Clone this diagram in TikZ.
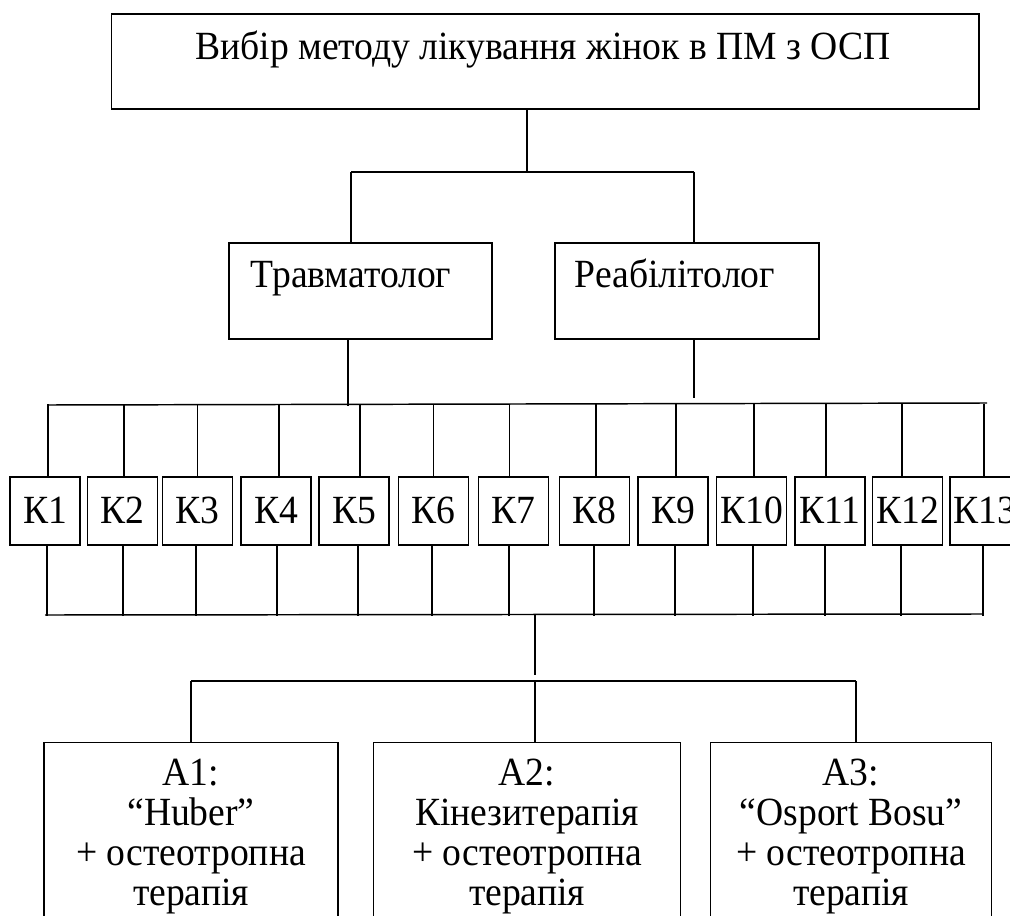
\documentclass[tikz,border=0pt]{standalone}
\usepackage{fontspec}
\setmainfont{Liberation Serif}[FakeStretch=0.94]
\usetikzlibrary{calc}
\begin{document}
\begin{tikzpicture}[x=0.75pt,y=-0.75pt,
  pxbox/.style 2 args={draw,line width=1pt,rectangle,inner sep=0pt,
    minimum width=#1*0.75pt,minimum height=#2*0.75pt,
    font=\fontsize{30}{30}\selectfont},
  kbox/.style={pxbox={70}{68},text height=18pt,text depth=0pt},
  lbl/.style={font=\fontsize{30}{30}\selectfont,inner sep=0pt,anchor=base},
  mlbl/.style={font=\fontsize{30}{30}\selectfont,inner sep=0pt,anchor=north,align=center},
  conn/.style={line width=0.8pt},
  bus/.style={line width=1.1pt}]
\useasboundingbox (0,0) rectangle (1010,916);
\clip (0,0) rectangle (1010,916);

% top box
\node[pxbox={867.5}{95}] (top) at (545.25,61.5) {};
\node[lbl] (toptext) at (543,60) {Вибір методу лікування жінок в ПМ з ОСП};

% second level
\node[pxbox={263}{96}] (trav) at (360.5,291) {};
\node[lbl] (travt) at (351,288) {Травматолог};
\node[pxbox={264}{96}] (reab) at (687,291) {};
\node[lbl] (reabt) at (675,288) {Реабілітолог};

\coordinate (j1) at (527,172);
\coordinate (jL) at (351,172);
\coordinate (jR) at (694,172);
\draw[conn] (top.south -| j1) -- (j1);
\draw[conn] (jL) -- (jR);
\draw[conn] (jL) -- (jL |- trav.north);
\draw[conn] (jR) -- (jR |- reab.north);

% top bus
\coordinate (bTL) at (48,405);
\coordinate (bTR) at (987,403);
\draw[bus] (bTL) -- (bTR);
\coordinate (tD) at (348,406);
\coordinate (rD) at (694,398);
\draw[conn] (trav.south -| tD) -- (tD);
\draw[conn] (reab.south -| rD) -- (rD);

% K boxes
\foreach \i/\c/\t/\b in {1/45/3/2, 2/122.3/1.7/0.7, 3/197.3/0/-1.3, 4/276/3/1,
  5/354/6/4, 6/433.5/0/-1.5, 7/513.5/-4/-4.5, 8/594.5/1.5/-0.5, 9/673/3/2,
  10/751.5/2.5/1.5, 11/830/-4/-5, 12/907.5/-5.5/-6.5, 13/985/-1/-2}{
  \node[kbox] (K\i) at (\c,511) {К\i};
  \draw[conn] ($(K\i.north)+(\t,0)$) -- ++(0,-72);
  \draw[conn] ($(K\i.south)+(\b,0)$) -- ++(0,70);
}

% bottom bus
\coordinate (bBL) at (45,615);
\coordinate (bBR) at (983,614);
\draw[bus] (bBL) -- (bBR);
\coordinate (c2) at (535,675);
\draw[conn] (bBL -| c2) -- (c2);

\coordinate (hL) at (191,681);
\coordinate (hM) at (535,681);
\coordinate (hR) at (856,681);
\draw[conn] (hL) -- (hR);

% A boxes
\node[pxbox={294}{220},anchor=north] (A1) at (191,742) {};
\node[pxbox={307.5}{220},anchor=north] (A2) at (527,742) {};
\node[pxbox={281}{220},anchor=north] (A3) at (851,742) {};
\draw[conn] (hL) -- (hL |- A1.north);
\draw[conn] (hM) -- (hM |- A2.north);
\draw[conn] (hR) -- (hR |- A3.north);

\node[mlbl] (A1t) at (191,757.7) {\strut А1:\\“Huber”\\+ остеотропна\\терапія};
\node[mlbl] (A2t) at (527,757.7) {\strut А2:\\Кінезитерапія\\+ остеотропна\\терапія};
\node[mlbl] (A3t) at (851,757.7) {\strut А3:\\“Osport Bosu”\\+ остеотропна\\терапія};
\end{tikzpicture}
\end{document}
